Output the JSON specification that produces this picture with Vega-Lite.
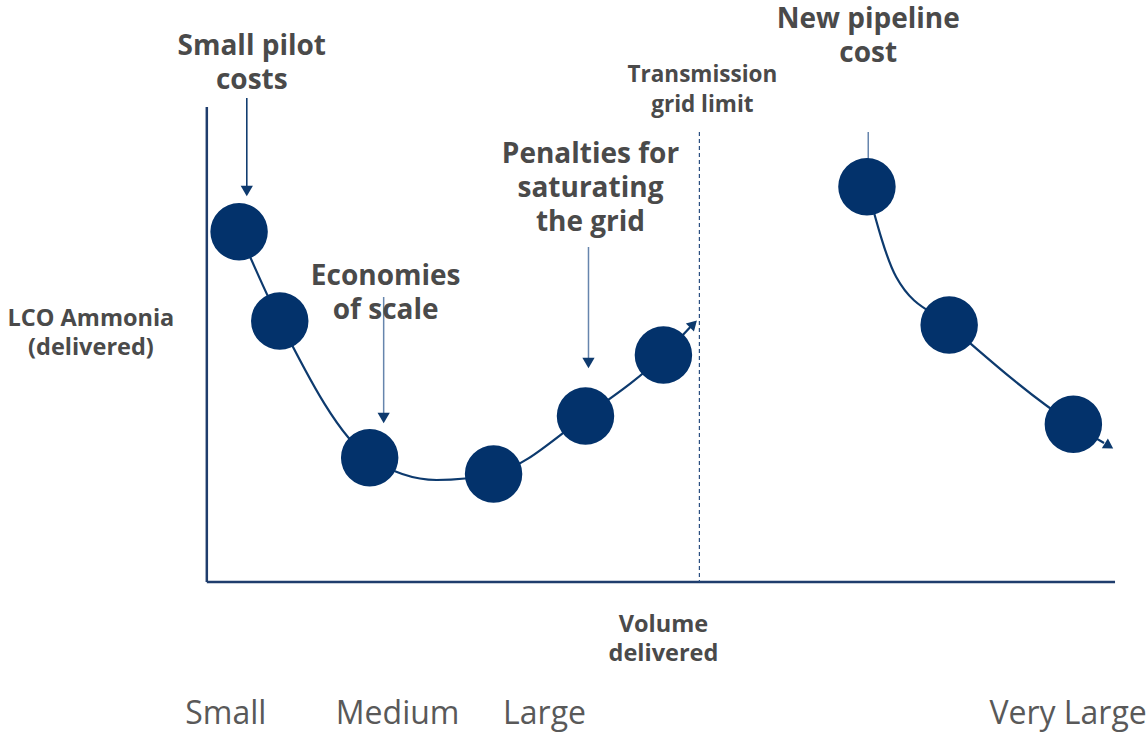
{
  "$schema": "https://vega.github.io/schema/vega-lite/v6.json",
  "width": 1147,
  "height": 732,
  "padding": 0,
  "autosize": {"type": "fit", "contains": "padding"},
  "background": "white",
  "config": {"view": {"stroke": null}},
  "datasets": {
    "axes": [
      {"x": 0, "y": 0, "x2": 0, "y2": 47.5},
      {"x": 0, "y": 0, "x2": 90.9, "y2": 0}
    ],
    "limit": [{"x": 49.3, "y": 45.0, "y2": 0}],
    "darkShafts": [{"x": 4.0, "y": 48.4, "y2": 39.4}],
    "lightShafts": [
      {"x": 17.7, "y": 28.5, "y2": 16.7},
      {"x": 38.2, "y": 33.5, "y2": 22.2},
      {"x": 66.2, "y": 45.0, "y2": 39.5}
    ],
    "heads": [
      {"x": 4.0, "y": 39.1},
      {"x": 17.7, "y": 16.4},
      {"x": 38.2, "y": 21.9}
    ],
    "curve": [
      {"seg": "grid", "x": 3.23, "y": 35.03},
      {"seg": "grid", "x": 7.3, "y": 26.1},
      {"seg": "grid", "x": 16.3, "y": 12.43},
      {"seg": "grid", "x": 23.0, "y": 10.2},
      {"seg": "grid", "x": 28.7, "y": 10.8},
      {"seg": "grid", "x": 37.9, "y": 16.6},
      {"seg": "grid", "x": 45.7, "y": 22.7},
      {"seg": "grid", "x": 48.4, "y": 25.5},
      {"seg": "pipe", "x": 66.07, "y": 39.53},
      {"seg": "pipe", "x": 69.0, "y": 30.5},
      {"seg": "pipe", "x": 74.3, "y": 25.7},
      {"seg": "pipe", "x": 86.73, "y": 15.77},
      {"seg": "pipe", "x": 89.8, "y": 13.9}
    ],
    "endA": [{"x": 48.7, "y": 25.8}],
    "endB": [{"x": 90.3, "y": 13.6}],
    "dots": [
      {"size": "Small", "x": 3.23, "y": 35.03},
      {"size": "Small", "x": 7.3, "y": 26.1},
      {"size": "Medium", "x": 16.3, "y": 12.43},
      {"size": "Large", "x": 28.7, "y": 10.8},
      {"size": "Large", "x": 37.9, "y": 16.6},
      {"size": "Large", "x": 45.7, "y": 22.7},
      {"size": "Very Large", "x": 66.07, "y": 39.53},
      {"size": "Very Large", "x": 74.3, "y": 25.7},
      {"size": "Very Large", "x": 86.73, "y": 15.77}
    ],
    "notes": [
      {"x": 4.5, "y": 52.7, "t": "Small pilot\ncosts"},
      {"x": 17.9, "y": 29.7, "t": "Economies\nof scale"},
      {"x": 38.4, "y": 41.9, "t": "Penalties for\nsaturating\nthe grid"},
      {"x": 66.2, "y": 55.4, "t": "New pipeline\ncost"}
    ],
    "smallNotes": [
      {"x": 49.6, "y": 50.0, "t": "Transmission\ngrid limit"}
    ],
    "titles": [
      {"x": -11.6, "y": 25.6, "t": "LCO Ammonia\n(delivered)"},
      {"x": 45.7, "y": -5.0, "t": "Volume\ndelivered"}
    ],
    "cats": [
      {"x": 1.9, "y": -14.2, "t": "Small"},
      {"x": 19.1, "y": -14.2, "t": "Medium"},
      {"x": 33.8, "y": -14.2, "t": "Large"},
      {"x": 86.2, "y": -14.2, "t": "Very Large"}
    ]
  },
  "encoding": {
    "x": {"field": "x", "type": "quantitative", "axis": null, "scale": {"domain": [-20.7, 94.0], "nice": false, "zero": false}},
    "y": {"field": "y", "type": "quantitative", "axis": null, "scale": {"domain": [-15, 58.2], "nice": false, "zero": false}}
  },
  "layer": [
    {
      "data": {"name": "axes"},
      "mark": {"type": "rule", "color": "#1f3d6d", "strokeWidth": 2.5},
      "encoding": {"x2": {"field": "x2"}, "y2": {"field": "y2"}}
    },
    {
      "data": {"name": "limit"},
      "mark": {"type": "rule", "color": "#2a4f80", "strokeWidth": 1.2, "strokeDash": [4, 3]},
      "encoding": {"y2": {"field": "y2"}}
    },
    {
      "data": {"name": "darkShafts"},
      "mark": {"type": "rule", "color": "#123d70", "strokeWidth": 1.6},
      "encoding": {"y2": {"field": "y2"}}
    },
    {
      "data": {"name": "lightShafts"},
      "mark": {"type": "rule", "color": "#6685ad", "strokeWidth": 1.5},
      "encoding": {"y2": {"field": "y2"}}
    },
    {
      "data": {"name": "heads"},
      "mark": {"type": "point", "shape": "triangle-down", "filled": true, "color": "#0e3a6e", "size": 150, "opacity": 1},
      "encoding": {}
    },
    {
      "data": {"name": "curve"},
      "mark": {"type": "line", "color": "#0d3a6e", "strokeWidth": 2.2, "interpolate": "monotone"},
      "encoding": {"detail": {"field": "seg"}}
    },
    {
      "data": {"name": "endA"},
      "mark": {"type": "point", "shape": "triangle-up", "angle": 45, "filled": true, "color": "#0d3a6e", "size": 130, "opacity": 1},
      "encoding": {}
    },
    {
      "data": {"name": "endB"},
      "mark": {"type": "point", "shape": "triangle-up", "angle": 122, "filled": true, "color": "#0d3a6e", "size": 130, "opacity": 1},
      "encoding": {}
    },
    {
      "data": {"name": "dots"},
      "mark": {"type": "circle", "color": "#03326b", "size": 3300, "opacity": 1},
      "encoding": {}
    },
    {
      "data": {"name": "notes"},
      "mark": {"type": "text", "font": "Open Sans", "fontWeight": "bold", "fontSize": 28, "color": "#4a4a4a", "align": "center", "baseline": "alphabetic", "lineBreak": "\n", "lineHeight": 34},
      "encoding": {"text": {"field": "t"}}
    },
    {
      "data": {"name": "smallNotes"},
      "mark": {"type": "text", "font": "Open Sans", "fontWeight": "bold", "fontSize": 22.5, "color": "#4a4a4a", "align": "center", "baseline": "alphabetic", "lineBreak": "\n", "lineHeight": 30},
      "encoding": {"text": {"field": "t"}}
    },
    {
      "data": {"name": "titles"},
      "mark": {"type": "text", "font": "Open Sans", "fontWeight": "bold", "fontSize": 23.5, "color": "#4a4a4a", "align": "center", "baseline": "alphabetic", "lineBreak": "\n", "lineHeight": 29},
      "encoding": {"text": {"field": "t"}}
    },
    {
      "data": {"name": "cats"},
      "mark": {"type": "text", "font": "Open Sans", "fontSize": 32, "color": "#595959", "align": "center", "baseline": "alphabetic"},
      "encoding": {"text": {"field": "t"}}
    }
  ]
}
